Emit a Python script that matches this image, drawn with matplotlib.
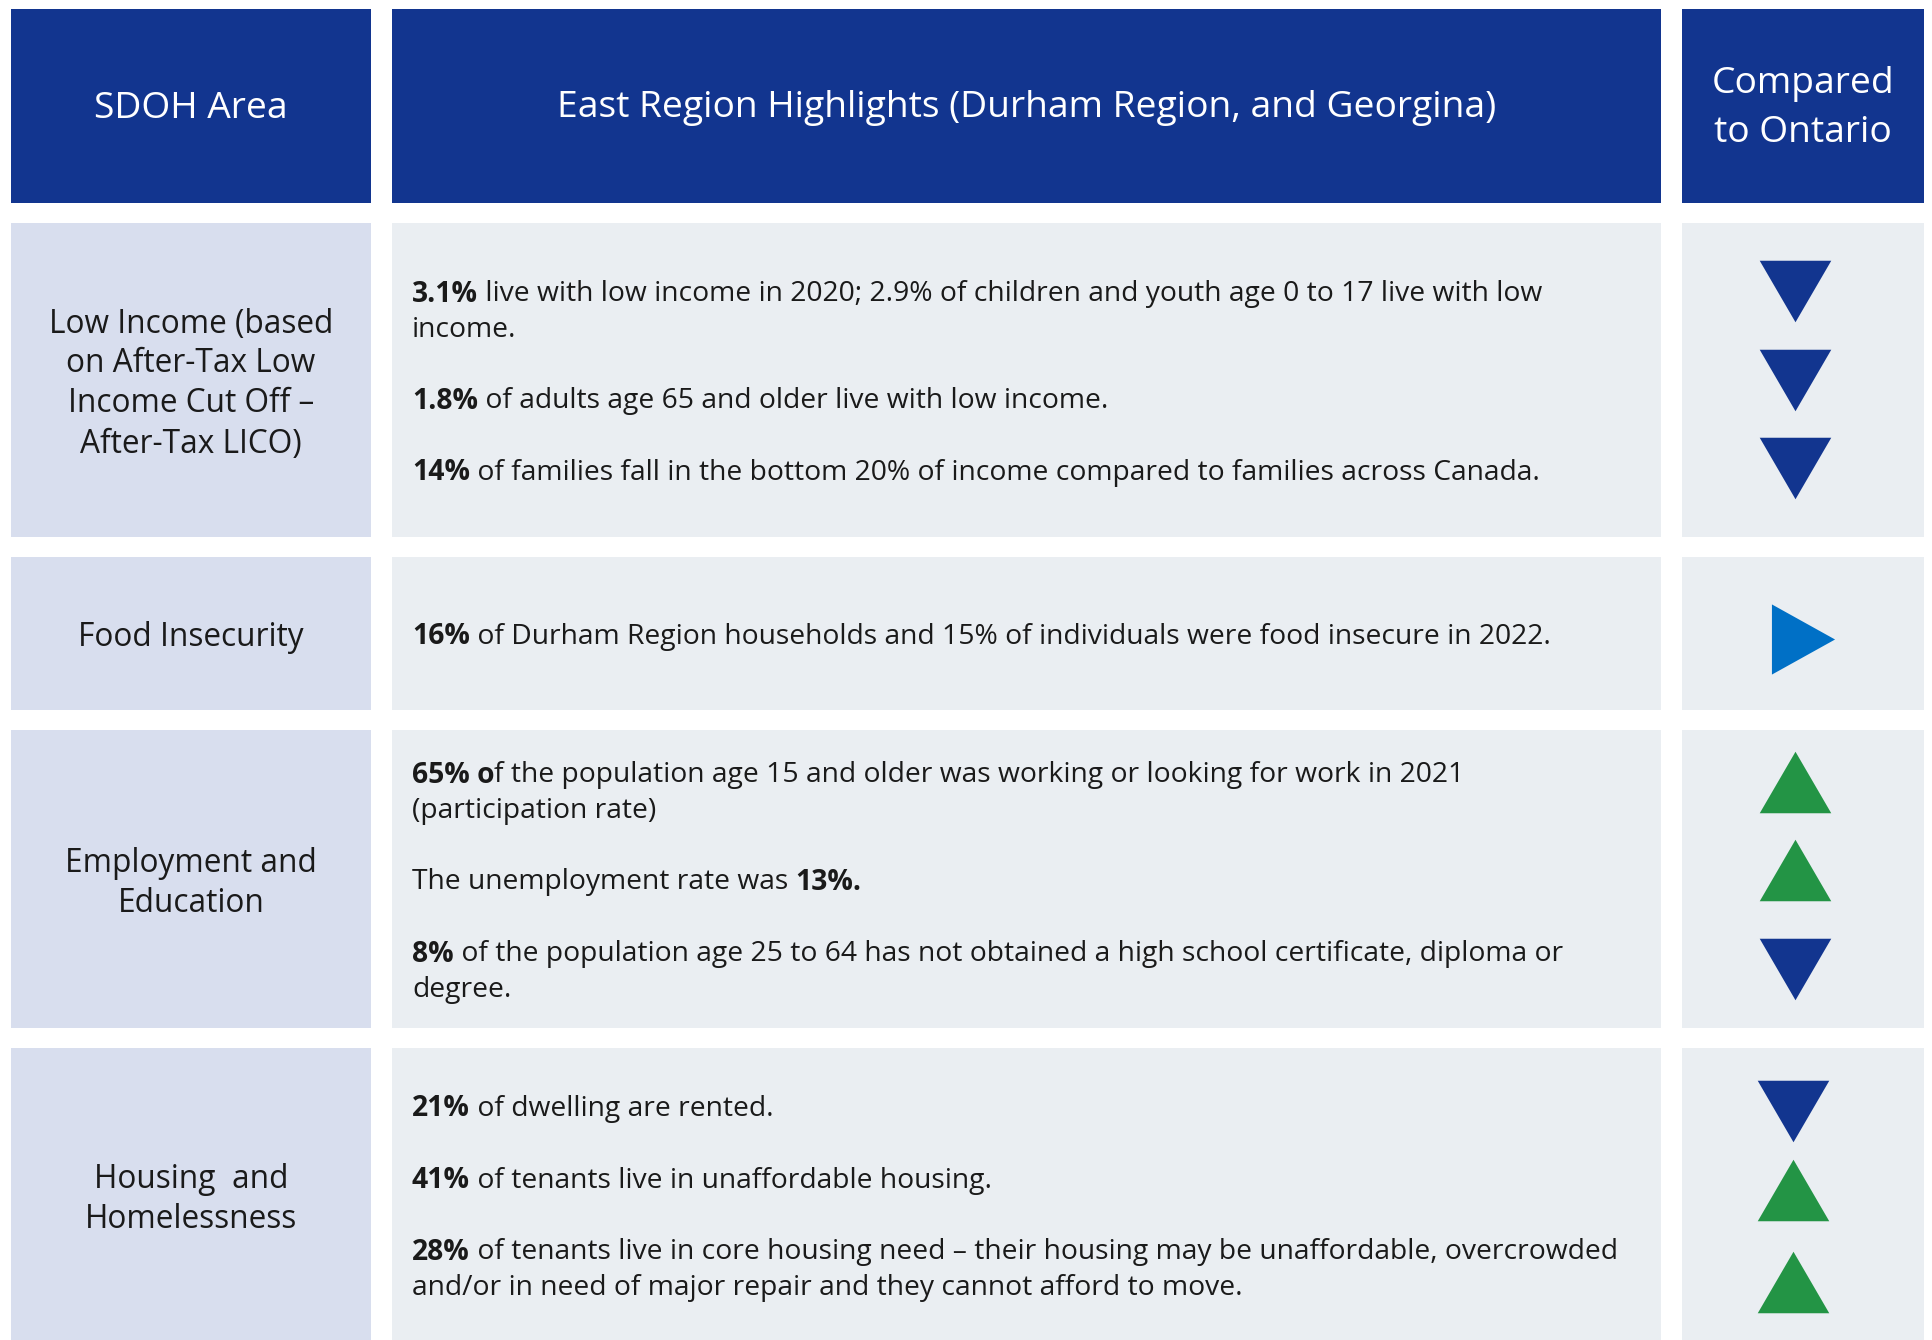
import matplotlib
matplotlib.use("Agg")
import matplotlib.pyplot as plt
from matplotlib.patches import Rectangle

# ---------------- data ----------------
headers = ["SDOH Area",
           "East Region Highlights (Durham Region, and Georgina)",
           "Compared\nto Ontario"]

areas = ["Low Income (based\non After-Tax Low\nIncome Cut Off \u2013\nAfter-Tax LICO)",
         "Food Insecurity",
         "Employment and\nEducation",
         "Housing  and\nHomelessness"]

low_income_lines = [
    "**3.1%** live with low income in 2020; 2.9% of children and youth age 0 to 17 live with low",
    "income.",
    "",
    "**1.8%** of adults age 65 and older live with low income.",
    "",
    "**14%** of families fall in the bottom 20% of income compared to families across Canada.",
]
food_lines = [
    "**16%** of Durham Region households and 15% of individuals were food insecure in 2022.",
]
employment_lines = [
    "**65% o**f the population age 15 and older was working or looking for work in 2021",
    "(participation rate)",
    "",
    "The unemployment rate was **13%.**",
    "",
    "**8%** of the population age 25 to 64 has not obtained a high school certificate, diploma or",
    "degree.",
]
housing_lines = [
    "**21%** of dwelling are rented.",
    "",
    "**41%** of tenants live in unaffordable housing.",
    "",
    "**28%** of tenants live in core housing need \u2013 their housing may be unaffordable, overcrowded",
    "and/or in need of major repair and they cannot afford to move.",
]
highlights = [low_income_lines, food_lines, employment_lines, housing_lines]

trends = [["down", "down", "down"],
          ["same"],
          ["up", "up", "down"],
          ["down", "up", "up"]]

# ---------------- layout / style ----------------
W, H = 1933, 1340
FONT = ["Open Sans", "DejaVu Sans"]
HEADER_BG = "#12358F"
AREA_BG = "#D8DEEE"
CELL_BG = "#EAEEF2"
TEXT = "#1A1A1A"
TREND_COLORS = {"down": "#12358F", "up": "#239445", "same": "#0070C6"}
TREND_MARKERS = {
    "down": [(-1, 0.86), (1, 0.86), (0, -0.86), (-1, 0.86)],
    "up": [(-1, -0.86), (1, -0.86), (0, 0.86), (-1, -0.86)],
    "same": [(-0.9, -1), (-0.9, 1), (0.9, 0), (-0.9, -1)],
}
TREND_SIZE = {"down": 51.5, "up": 51.5, "same": 50.5}

col_x = [(11, 371), (392, 1661), (1682, 1924)]
header_y = (9, 203)
row_y = [(223, 537), (557, 710), (730, 1028), (1048, 1345)]
trend_y = [[291, 380, 468], [639], [782, 870, 969], [1111, 1190, 1282]]
trend_x = [1795, 1803, 1795, 1793]

BODY_FS = 20.3
AREA_FS = 22.8
HEADER_FS = 26.8
BODY_LS = 35.8
AREA_LS = 40

fig = plt.figure(figsize=(W / 100, H / 100), dpi=100)
ax = fig.add_axes([0, 0, 1, 1])
ax.set_xlim(0, W)
ax.set_ylim(H, 0)
ax.axis("off")
renderer = fig.canvas.get_renderer()


def cell(x0, x1, y0, y1, color):
    ax.add_patch(Rectangle((x0, y0), x1 - x0, y1 - y0, facecolor=color,
                           edgecolor="none", zorder=1))


def multiline(cx, cy, text, fs, ls, color):
    lines = text.split("\n")
    n = len(lines)
    for i, ln in enumerate(lines):
        y = cy + (i - (n - 1) / 2) * ls
        ax.text(cx, y, ln, ha="center", va="center_baseline", fontsize=fs,
                color=color, family=FONT, zorder=3)


def rich_line(x, y, line):
    parts = line.split("**")
    for k, seg in enumerate(parts):
        if not seg:
            continue
        bold = (k % 2 == 1)
        t = ax.text(x, y, seg, ha="left", va="center_baseline", fontsize=BODY_FS,
                    color=TEXT, family=FONT,
                    fontweight="bold" if bold else "normal", zorder=3)
        x += t.get_window_extent(renderer).width


# header
for (x0, x1), label in zip(col_x, headers):
    cell(x0, x1, header_y[0], header_y[1], HEADER_BG)
    multiline((x0 + x1) / 2, (header_y[0] + header_y[1]) / 2 - 2, label,
              HEADER_FS, 49, "white")

# rows
for r, (y0, y1) in enumerate(row_y):
    cell(col_x[0][0], col_x[0][1], y0, y1, AREA_BG)
    cell(col_x[1][0], col_x[1][1], y0, y1, CELL_BG)
    cell(col_x[2][0], col_x[2][1], y0, y1, CELL_BG)
    cy = (y0 + min(y1, H + 5)) / 2
    if r == 3:
        cy = 1195
    multiline((col_x[0][0] + col_x[0][1]) / 2, cy, areas[r], AREA_FS, AREA_LS, TEXT)
    lines = highlights[r]
    n = len(lines)
    for i, ln in enumerate(lines):
        if ln:
            rich_line(412, cy + (i - (n - 1) / 2) * BODY_LS, ln)
    for t, ty in zip(trends[r], trend_y[r]):
        ax.scatter([trend_x[r]], [ty], marker=TREND_MARKERS[t],
                   s=TREND_SIZE[t] ** 2, color=TREND_COLORS[t],
                   linewidths=0, zorder=4)

fig.savefig("out.png", dpi=100, facecolor="white")
